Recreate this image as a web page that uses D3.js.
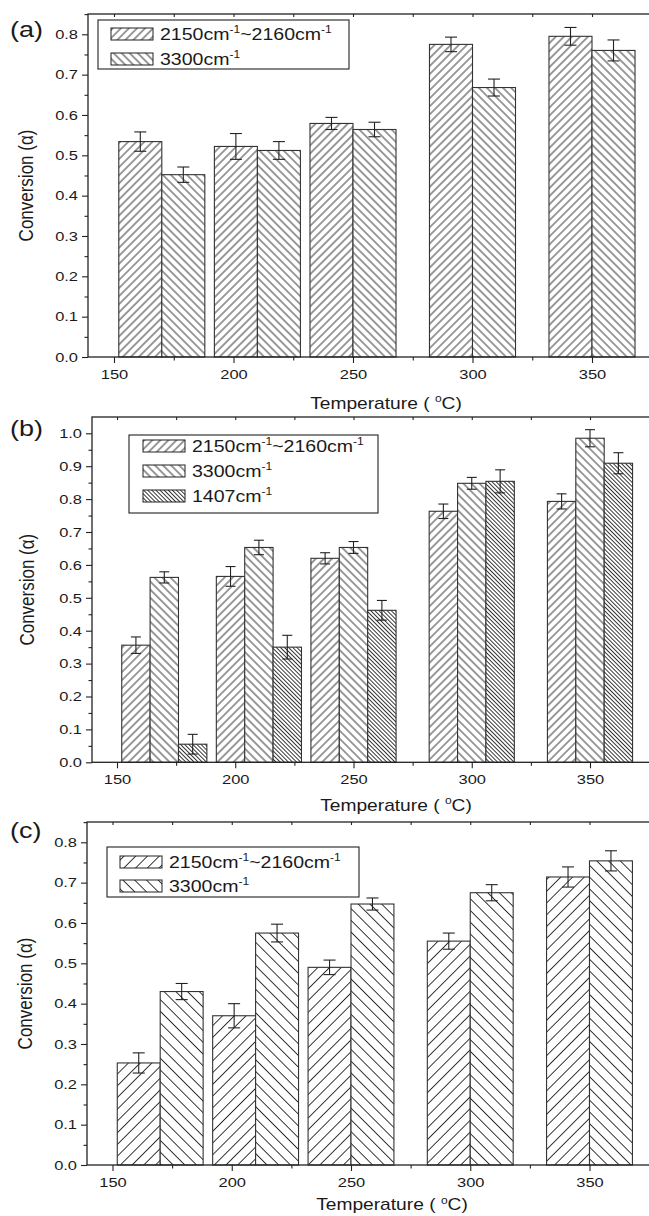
<!DOCTYPE html>
<html>
<head>
<meta charset="utf-8">
<script src="https://cdn.jsdelivr.net/npm/d3@7/dist/d3.min.js"></script>
<style>
  html, body { margin: 0; padding: 0; background: #fff; overflow: hidden; }
  svg { display: block; }
  text { font-family: "Liberation Sans", Arial, sans-serif; fill: #1a1a1a; }
</style>
</head>
<body>
<svg id="chart" width="649" height="1216"></svg>
<script>
// Temperatures of each bar group and the labelled x ticks
const temps = [170, 210, 250, 300, 350];
const xTicks = [150, 200, 250, 300, 350];
const xMinorTicks = [175, 225, 275, 325, 375];

// Panel (a)
const a2150 = [0.534, 0.522, 0.579, 0.775, 0.795];
const a2150Err = [0.024, 0.032, 0.015, 0.018, 0.022];
const a3300 = [0.452, 0.512, 0.564, 0.668, 0.760];
const a3300Err = [0.019, 0.022, 0.018, 0.021, 0.026];

// Panel (b)
const b2150 = [0.356, 0.565, 0.620, 0.763, 0.793];
const b2150Err = [0.025, 0.030, 0.017, 0.022, 0.023];
const b3300 = [0.562, 0.653, 0.653, 0.848, 0.985];
const b3300Err = [0.017, 0.022, 0.018, 0.018, 0.026];
const b1407 = [0.055, 0.350, 0.462, 0.854, 0.909];
const b1407Err = [0.030, 0.036, 0.030, 0.035, 0.032];

// Panel (c)
const c2150 = [0.253, 0.370, 0.490, 0.555, 0.714];
const c2150Err = [0.025, 0.030, 0.018, 0.020, 0.025];
const c3300 = [0.430, 0.575, 0.647, 0.675, 0.754];
const c3300Err = [0.020, 0.022, 0.015, 0.020, 0.025];

// Legend labels: alternating normal text and superscript
const label2150 = ["2150cm", "-1", "~2160cm", "-1"];
const label3300 = ["3300cm", "-1"];
const label1407 = ["1407cm", "-1"];

const svg = d3.select("#chart");
const defs = svg.append("defs");

// Horizontally widen a text about its anchor point
function widen(sel, sx) {
  sel.each(function () {
    const t = d3.select(this);
    const x = +(t.attr("x") || 0), y = +(t.attr("y") || 0);
    t.attr("transform", `translate(${x},${y}) scale(${sx},1) translate(${-x},${-y})`);
  });
}

// Diagonal hatch fills
function hatch(id, angle, spacing) {
  const p = defs.append("pattern")
    .attr("id", id)
    .attr("patternUnits", "userSpaceOnUse")
    .attr("width", spacing)
    .attr("height", spacing)
    .attr("patternTransform", `rotate(${angle})`);
  p.append("rect").attr("width", spacing).attr("height", spacing).attr("fill", "#fff");
  p.append("line")
    .attr("x1", spacing / 2).attr("y1", -1)
    .attr("x2", spacing / 2).attr("y2", spacing + 1)
    .attr("stroke", "#222").attr("stroke-width", 0.9);
}
hatch("fwd-fine", 45, 5.7);
hatch("back-fine", -45, 5.7);
hatch("back-dense", -45, 2.9);
hatch("fwd-coarse", 45, 8.3);
hatch("back-coarse", -45, 8.3);

function addLabel(sel, parts, x, y) {
  const t = sel.append("text").attr("x", x).attr("y", y).attr("font-size", 17);
  parts.forEach((s, i) => {
    if (i % 2 === 0) {
      t.append("tspan").text(s).attr("font-size", 17).attr("dy", i === 0 ? 0 : 6.5);
    } else {
      t.append("tspan").text(s).attr("font-size", 10.5).attr("dy", -6.5);
    }
  });
  widen(t, 1.15);
}

function drawPanel(cfg) {
  const g = svg.append("g");
  const x = d3.scaleLinear().domain([150, 350]).range([cfg.x150, cfg.x350]);
  const y = d3.scaleLinear().domain([0, cfg.yRef]).range([cfg.bottom, cfg.yRefPx]);
  const top = cfg.top, right = 700;

  const n = cfg.series.length;
  const bw = cfg.barWidth;

  // bars
  cfg.series.forEach((s, si) => {
    const offset = -n * bw / 2 + si * bw;
    g.append("g").selectAll("rect")
      .data(temps.map((t, i) => ({ t, v: s.values[i] })))
      .join("rect")
      .attr("x", d => x(d.t + offset))
      .attr("y", d => y(d.v))
      .attr("width", d => x(d.t + offset + bw) - x(d.t + offset))
      .attr("height", d => y(0) - y(d.v))
      .attr("fill", `url(#${s.pattern})`)
      .attr("stroke", "#333")
      .attr("stroke-width", 1.1);
  });

  // error bars
  cfg.series.forEach((s, si) => {
    const offset = -n * bw / 2 + si * bw + bw / 2;
    const eg = g.append("g").attr("stroke", "#222").attr("stroke-width", 1.1);
    temps.forEach((t, i) => {
      const cx = x(t + offset);
      const v = s.values[i], e = s.errors[i];
      eg.append("line").attr("x1", cx).attr("x2", cx).attr("y1", y(v + e)).attr("y2", y(v - e));
      eg.append("line").attr("x1", cx - cfg.cap).attr("x2", cx + cfg.cap).attr("y1", y(v + e)).attr("y2", y(v + e));
      eg.append("line").attr("x1", cx - cfg.cap).attr("x2", cx + cfg.cap).attr("y1", y(v - e)).attr("y2", y(v - e));
    });
  });

  // frame (right side runs past the page edge)
  g.append("rect")
    .attr("x", cfg.left).attr("y", top)
    .attr("width", right - cfg.left).attr("height", cfg.bottom - top)
    .attr("fill", "none").attr("stroke", "#222").attr("stroke-width", 1.3);

  // y axis
  const yMax = y.invert(top);
  const yTicks = d3.range(0, yMax + 1e-9, 0.1).map(v => +v.toFixed(2));
  const yMinor = yTicks.map(v => v + 0.05).filter(v => v < yMax);
  g.append("g").attr("class", "ax").attr("transform", `translate(${cfg.left},0)`)
    .call(d3.axisLeft(y).tickValues(yTicks).tickFormat(d3.format(".1f")).tickSize(6).tickPadding(4));
  g.append("g").attr("class", "ax").attr("transform", `translate(${cfg.left},0)`)
    .call(d3.axisLeft(y).tickValues(yMinor).tickFormat("").tickSize(3.5));

  // x axis
  g.append("g").attr("class", "ax").attr("transform", `translate(0,${cfg.bottom})`)
    .call(d3.axisBottom(x).tickValues(xTicks).tickFormat(d3.format("d")).tickSize(6).tickPadding(6));
  g.append("g").attr("class", "ax").attr("transform", `translate(0,${cfg.bottom})`)
    .call(d3.axisBottom(x).tickValues(xMinorTicks).tickFormat("").tickSize(3.5));
  // inward ticks along the top edge
  g.append("g").attr("class", "ax").attr("transform", `translate(0,${top})`)
    .call(d3.axisBottom(x).tickValues(xTicks.concat(xMinorTicks)).tickFormat("").tickSize(3));

  g.selectAll(".domain").remove();
  g.selectAll(".tick line").attr("stroke", "#222").attr("stroke-width", 1.1);
  g.selectAll(".tick text")
    .attr("font-size", 13.5)
    .attr("font-family", "Liberation Sans, Arial, sans-serif")
    .attr("fill", "#1a1a1a")
    .call(widen, 1.22);

  // axis titles
  const xt = g.append("text").attr("x", cfg.xTitleX).attr("y", cfg.xTitleY)
    .attr("text-anchor", "middle").attr("font-size", 16);
  xt.append("tspan").text("Temperature ( ");
  xt.append("tspan").text("o").attr("font-size", 10).attr("dy", -6.5);
  xt.append("tspan").text("C)").attr("dy", 6.5);
  widen(xt, 1.2);

  g.append("text")
    .attr("transform", `translate(${cfg.yTitleX},${(top + cfg.bottom) / 2}) rotate(-90) scale(1,1.18)`)
    .attr("text-anchor", "middle").attr("font-size", 17)
    .text("Conversion (α)");

  // panel tag
  const tag = g.append("text").attr("x", 10).attr("y", cfg.tagY).attr("font-size", 22.5).text(cfg.tag);
  widen(tag, 1.2);

  // legend
  const L = cfg.legend;
  const lg = g.append("g");
  lg.append("rect").attr("x", L.x).attr("y", L.y).attr("width", L.w).attr("height", L.h)
    .attr("fill", "#fff").attr("stroke", "#222").attr("stroke-width", 1.1);
  cfg.series.forEach((s, si) => {
    const ry = L.y + L.first + si * L.step;
    lg.append("rect").attr("x", L.x + L.pad).attr("y", ry - 6).attr("width", 42).attr("height", 12)
      .attr("fill", `url(#${s.pattern})`).attr("stroke", "#222").attr("stroke-width", 1);
    addLabel(lg, s.label, L.x + L.pad + 49, ry + 6);
  });
}

drawPanel({
  tag: "(a)", tagY: 37.5,
  left: 88, top: 14, bottom: 357, yRef: 0.8, yRefPx: 34.3,
  x150: 114, x350: 592,
  barWidth: 18, cap: 6,
  xTitleX: 386, xTitleY: 409, yTitleX: 33,
  legend: { x: 98, y: 20, w: 251, h: 49, pad: 13, first: 14, step: 25 },
  series: [
    { values: a2150, errors: a2150Err, pattern: "fwd-fine", label: label2150 },
    { values: a3300, errors: a3300Err, pattern: "back-fine", label: label3300 }
  ]
});

drawPanel({
  tag: "(b)", tagY: 436,
  left: 92, top: 417, bottom: 762.3, yRef: 1.0, yRefPx: 433.3,
  x150: 117, x350: 590,
  barWidth: 12, cap: 5,
  xTitleX: 396, xTitleY: 811, yTitleX: 34,
  legend: { x: 129, y: 435, w: 249, h: 78, pad: 14, first: 11, step: 25 },
  series: [
    { values: b2150, errors: b2150Err, pattern: "fwd-fine", label: label2150 },
    { values: b3300, errors: b3300Err, pattern: "back-fine", label: label3300 },
    { values: b1407, errors: b1407Err, pattern: "back-dense", label: label1407 }
  ]
});

drawPanel({
  tag: "(c)", tagY: 838.5,
  left: 87, top: 822, bottom: 1165, yRef: 0.8, yRefPx: 842.3,
  x150: 112.5, x350: 589.5,
  barWidth: 18, cap: 6,
  xTitleX: 392, xTitleY: 1210.5, yTitleX: 32,
  legend: { x: 107, y: 847, w: 252, h: 50, pad: 13, first: 15, step: 24 },
  series: [
    { values: c2150, errors: c2150Err, pattern: "fwd-coarse", label: label2150 },
    { values: c3300, errors: c3300Err, pattern: "back-coarse", label: label3300 }
  ]
});
</script>
</body>
</html>
